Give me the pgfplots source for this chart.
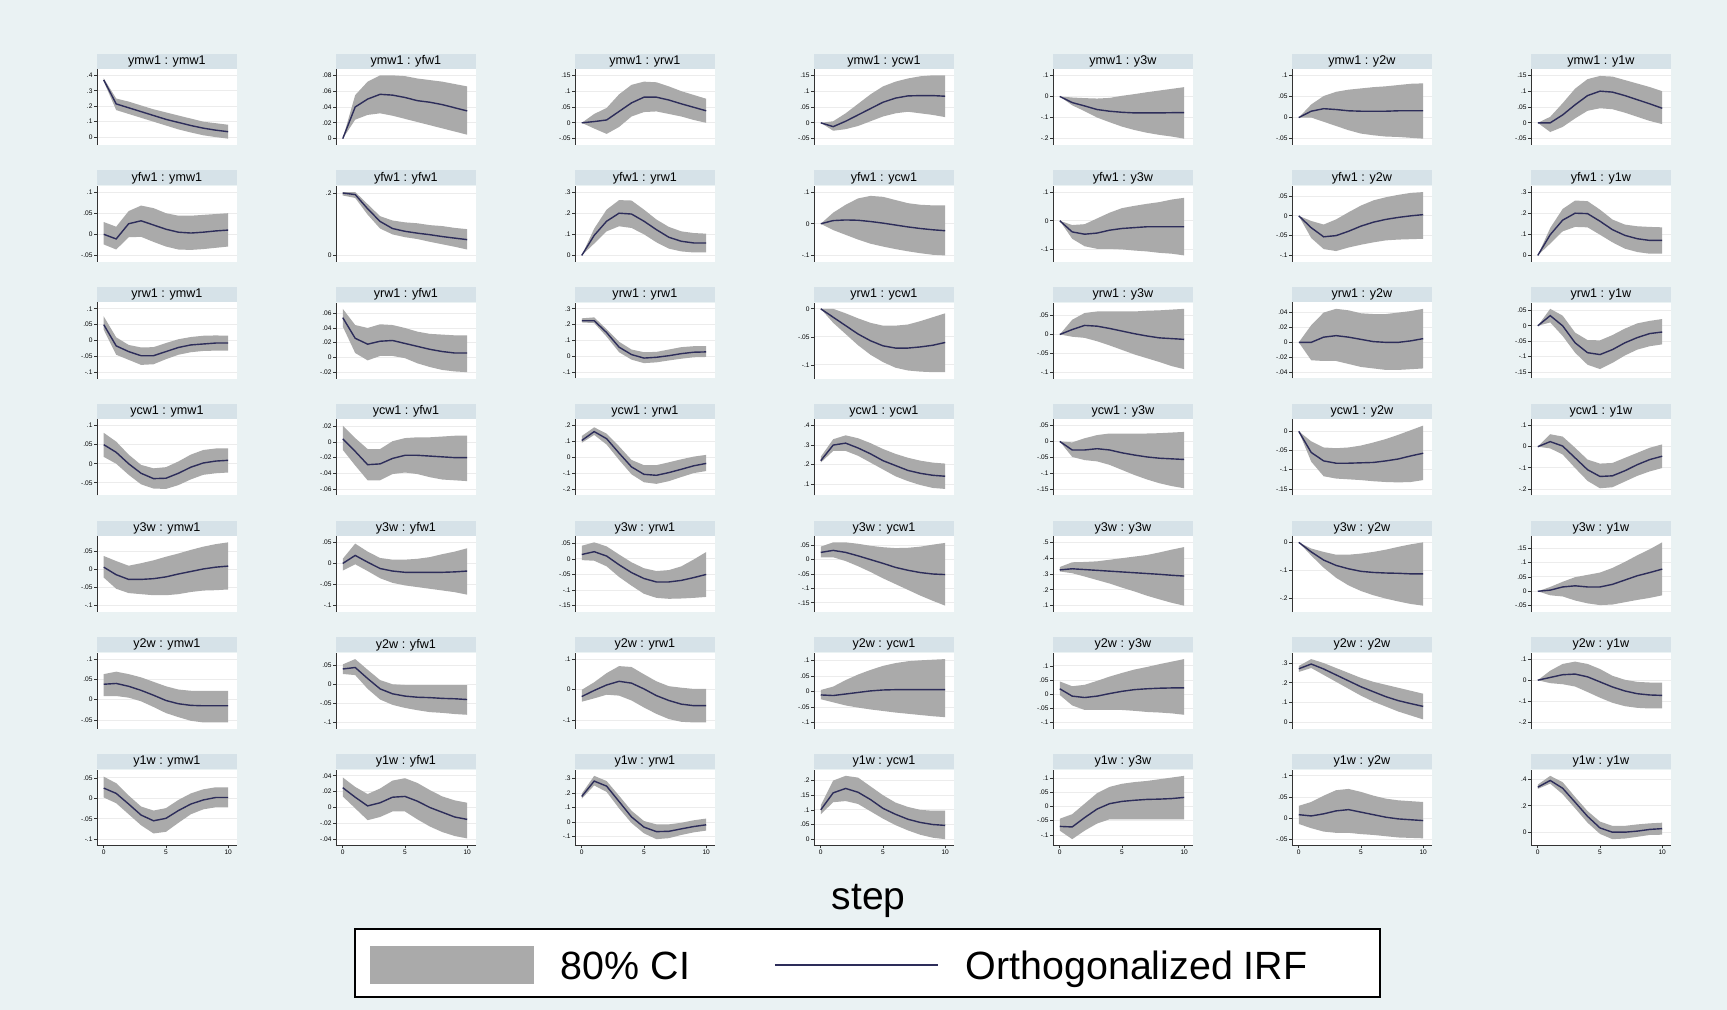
\documentclass[border=0pt]{standalone}
\usepackage{pgfplots}
\pgfplotsset{compat=1.18}
\usepackage{pgfplotstable}
\usepackage{fontspec}
\setmainfont{Liberation Sans}

\definecolor{bgc}{RGB}{234,242,243}
\definecolor{titlebg}{RGB}{214,226,232}
\definecolor{cigray}{RGB}{170,170,170}
\definecolor{irfc}{RGB}{45,45,90}
\definecolor{gridc}{RGB}{236,236,236}

\pgfplotsset{
 irfpanel/.style={scale only axis, width=70pt, height=38pt, anchor=north west,
  xmin=-0.55, xmax=10.7, hide x axis, axis y line*=left,
  axis background/.style={fill=white}, scaled y ticks=false,
  ymajorgrids, grid style={draw=gridc, line width=0.4pt},
  tick style={draw=black!80, line width=0.35pt}, major tick length=1.4pt, tick align=outside,
  y axis line style={draw=black!80, line width=0.35pt},
  yticklabel style={font=\fontsize{3.3}{4}\selectfont, inner sep=0.6pt},
  every axis title shift=0pt,
  title style={at={(0.5,1)}, anchor=south, yshift=0pt, fill=titlebg, minimum width=70pt,
   minimum height=7.5pt, inner sep=0pt, font=\fontsize{6.3}{7}\selectfont}},
 row0/.style={}, row1/.style={}, row2/.style={}, row3/.style={}, row4/.style={}, row5/.style={},
 row6/.style={hide x axis=false, axis x line*=bottom, xtick={0,5,10}, xticklabels={0,5,10},
  x axis line style={draw=black!80, line width=0.35pt},
  xticklabel style={font=\fontsize{3.3}{4}\selectfont, inner sep=0.6pt}},
}

% #1 col, #2 row, #3 title, #4 low end, #5 high end, #6 ticks, #7 tick labels, #8 table
\newcommand{\panel}[8]{%
 \pgfmathsetmacro{\panX}{48.45+119.5*#1}%
 \pgfmathsetmacro{\panY}{-(34.5+58.375*#2)}%
 \pgfmathsetmacro{\panLo}{(#4)-0.1*((#5)-(#4))}%
 \pgfmathsetmacro{\panHi}{(#5)+0.1*((#5)-(#4))}%
 \pgfplotstablesort[sort key=s, sort cmp=int >]{\panRev}{#8}%
 \pgfplotstablecreatecol[expr={\thisrow{hi}}]{b}{\panRev}%
 \pgfplotstablesort[sort key=s, sort cmp=int <]{\panBand}{#8}%
 \pgfplotstablecreatecol[expr={\thisrow{lo}}]{b}{\panBand}%
 \pgfplotstablevertcat{\panBand}{\panRev}%
 \begin{axis}[irfpanel, row#2, at={(\panX pt,\panY pt)}, ymin=\panLo, ymax=\panHi, ytick={#6}, yticklabels={#7}, title={#3}]
 \addplot[fill=cigray, draw=none, mark=none, forget plot] table[x=s,y=b]{\panBand} -- cycle;
 \addplot[irfc, line width=0.7pt, mark=none] table[x=s,y=irf]{#8};
 \end{axis}}

% ---------------- data: s lo irf hi ----------------
\pgfplotstableread{
s lo irf hi
0 0.36 0.37 0.38
1 0.175 0.215 0.25
2 0.15 0.19 0.23
3 0.125 0.165 0.205
4 0.10 0.14 0.18
5 0.075 0.115 0.16
6 0.05 0.095 0.14
7 0.03 0.075 0.12
8 0.012 0.058 0.10
9 0.0 0.045 0.09
10 -0.01 0.035 0.08
}\tAa
\pgfplotstableread{
s lo irf hi
0 0 0 0
1 0.024 0.040 0.055
2 0.030 0.050 0.072
3 0.032 0.056 0.080
4 0.029 0.055 0.080
5 0.025 0.052 0.079
6 0.021 0.048 0.076
7 0.017 0.046 0.074
8 0.013 0.043 0.072
9 0.009 0.039 0.069
10 0.005 0.035 0.066
}\tAb
\pgfplotstableread{
s lo irf hi
0 0 0 0
1 -0.018 0.004 0.028
2 -0.035 0.009 0.047
3 -0.013 0.036 0.09
4 0.02 0.063 0.12
5 0.034 0.081 0.13
6 0.036 0.081 0.128
7 0.028 0.072 0.115
8 0.02 0.06 0.1
9 0.009 0.049 0.088
10 0 0.038 0.076
}\tAc
\pgfplotstableread{
s lo irf hi
0 0 0 0
1 -0.025 -0.012 0.005
2 -0.02 0.005 0.03
3 -0.01 0.025 0.06
4 0.005 0.045 0.09
5 0.02 0.065 0.115
6 0.03 0.078 0.13
7 0.035 0.085 0.14
8 0.03 0.086 0.147
9 0.025 0.086 0.15
10 0.018 0.084 0.15
}\tAd
\pgfplotstableread{
s lo irf hi
0 0 0 0
1 -0.042 -0.029 -0.005
2 -0.07 -0.045 -0.008
3 -0.1 -0.062 -0.01
4 -0.122 -0.07 -0.007
5 -0.143 -0.075 0.003
6 -0.159 -0.078 0.011
7 -0.172 -0.078 0.02
8 -0.182 -0.078 0.028
9 -0.19 -0.077 0.036
10 -0.2 -0.077 0.044
}\tAe
\pgfplotstableread{
s lo irf hi
0 0 0 0
1 0 0.015 0.031
2 -0.01 0.021 0.051
3 -0.02 0.019 0.061
4 -0.03 0.016 0.066
5 -0.038 0.015 0.069
6 -0.042 0.015 0.072
7 -0.045 0.015 0.074
8 -0.046 0.016 0.077
9 -0.048 0.016 0.08
10 -0.05 0.016 0.081
}\tAf
\pgfplotstableread{
s lo irf hi
0 0 0 0
1 -0.029 0 0.019
2 -0.013 0.025 0.062
3 0.014 0.057 0.108
4 0.038 0.086 0.138
5 0.046 0.1 0.148
6 0.043 0.097 0.146
7 0.032 0.086 0.135
8 0.019 0.073 0.124
9 0.006 0.06 0.113
10 -0.004 0.046 0.1
}\tAg
\pgfplotstableread{
s lo irf hi
0 -0.024 0 0.029
1 -0.036 -0.011 0.018
2 -0.007 0.025 0.055
3 -0.006 0.032 0.068
4 -0.018 0.022 0.062
5 -0.029 0.012 0.05
6 -0.036 0.005 0.044
7 -0.037 0.003 0.044
8 -0.035 0.005 0.046
9 -0.032 0.008 0.048
10 -0.029 0.01 0.05
}\tBa
\pgfplotstableread{
s lo irf hi
0 0.194 0.202 0.205
1 0.186 0.197 0.205
2 0.132 0.151 0.166
3 0.087 0.11 0.127
4 0.068 0.087 0.113
5 0.059 0.078 0.107
6 0.053 0.072 0.104
7 0.044 0.067 0.098
8 0.036 0.061 0.095
9 0.028 0.056 0.089
10 0.019 0.051 0.085
}\tBb
\pgfplotstableread{
s lo irf hi
0 0 0 0
1 0.056 0.095 0.127
2 0.114 0.162 0.217
3 0.138 0.2 0.262
4 0.13 0.196 0.26
5 0.1 0.162 0.217
6 0.062 0.122 0.17
7 0.032 0.086 0.135
8 0.019 0.067 0.114
9 0.014 0.059 0.106
10 0.014 0.059 0.103
}\tBc
\pgfplotstableread{
s lo irf hi
0 0 0 0
1 -0.02 0.01 0.035
2 -0.035 0.012 0.06
3 -0.05 0.011 0.08
4 -0.063 0.007 0.088
5 -0.072 0.002 0.085
6 -0.08 -0.004 0.075
7 -0.087 -0.01 0.065
8 -0.093 -0.015 0.06
9 -0.098 -0.019 0.058
10 -0.1 -0.022 0.058
}\tBd
\pgfplotstableread{
s lo irf hi
0 0 0 0
1 -0.063 -0.039 -0.015
2 -0.089 -0.047 -0.012
3 -0.098 -0.043 0.008
4 -0.098 -0.033 0.028
5 -0.1 -0.027 0.044
6 -0.104 -0.024 0.052
7 -0.107 -0.021 0.059
8 -0.112 -0.021 0.065
9 -0.115 -0.021 0.074
10 -0.121 -0.021 0.08
}\tBe
\pgfplotstableread{
s lo irf hi
0 0 0 0
1 -0.056 -0.03 -0.013
2 -0.084 -0.053 -0.022
3 -0.089 -0.05 -0.009
4 -0.08 -0.039 0.009
5 -0.073 -0.026 0.026
6 -0.067 -0.016 0.039
7 -0.062 -0.009 0.047
8 -0.06 -0.004 0.053
9 -0.059 0 0.058
10 -0.058 0.003 0.06
}\tBf
\pgfplotstableread{
s lo irf hi
0 0 0 0
1 0.056 0.098 0.13
2 0.114 0.167 0.22
3 0.135 0.2 0.26
4 0.133 0.198 0.257
5 0.098 0.162 0.217
6 0.062 0.122 0.17
7 0.032 0.095 0.146
8 0.016 0.079 0.138
9 0.008 0.071 0.135
10 0.008 0.071 0.133
}\tBg
\pgfplotstableread{
s lo irf hi
0 0.034 0.05 0.076
1 -0.045 -0.017 0.01
2 -0.061 -0.035 -0.014
3 -0.077 -0.048 -0.022
4 -0.075 -0.048 -0.021
5 -0.059 -0.035 -0.008
6 -0.045 -0.022 0.004
7 -0.037 -0.014 0.011
8 -0.033 -0.011 0.015
9 -0.032 -0.008 0.016
10 -0.032 -0.008 0.015
}\tCa
\pgfplotstableread{
s lo irf hi
0 0.042 0.054 0.066
1 0.006 0.026 0.044
2 -0.004 0.018 0.04
3 0.002 0.022 0.045
4 0.002 0.023 0.044
5 -0.001 0.019 0.04
6 -0.008 0.015 0.035
7 -0.013 0.011 0.032
8 -0.017 0.008 0.031
9 -0.019 0.006 0.03
10 -0.02 0.006 0.03
}\tCb
\pgfplotstableread{
s lo irf hi
0 0.214 0.225 0.24
1 0.21 0.225 0.246
2 0.124 0.15 0.171
3 0.026 0.058 0.092
4 -0.021 0.011 0.043
5 -0.043 -0.011 0.026
6 -0.038 -0.006 0.028
7 -0.026 0.004 0.043
8 -0.015 0.017 0.058
9 -0.006 0.026 0.064
10 -0.004 0.028 0.064
}\tCc
\pgfplotstableread{
s lo irf hi
0 0 0 0
1 -0.025 -0.015 0
2 -0.045 -0.03 -0.008
3 -0.065 -0.045 -0.017
4 -0.082 -0.057 -0.025
5 -0.095 -0.066 -0.03
6 -0.105 -0.07 -0.03
7 -0.11 -0.07 -0.028
8 -0.112 -0.068 -0.022
9 -0.113 -0.065 -0.015
10 -0.113 -0.06 -0.008
}\tCd
\pgfplotstableread{
s lo irf hi
0 0 0 0
1 -0.006 0.013 0.039
2 -0.009 0.024 0.057
3 -0.018 0.022 0.061
4 -0.029 0.016 0.061
5 -0.041 0.009 0.061
6 -0.053 0.002 0.061
7 -0.063 -0.004 0.063
8 -0.073 -0.009 0.064
9 -0.084 -0.011 0.066
10 -0.092 -0.013 0.068
}\tCe
\pgfplotstableread{
s lo irf hi
0 0 0 0
1 -0.024 0 0.023
2 -0.025 0.007 0.04
3 -0.025 0.009 0.045
4 -0.029 0.007 0.043
5 -0.033 0.004 0.039
6 -0.035 0.001 0.038
7 -0.037 0 0.038
8 -0.037 0 0.04
9 -0.036 0.002 0.042
10 -0.035 0.005 0.045
}\tCf
\pgfplotstableread{
s lo irf hi
0 0 0 0
1 0.011 0.033 0.055
2 -0.033 0 0.033
3 -0.087 -0.055 -0.022
4 -0.126 -0.087 -0.046
5 -0.14 -0.093 -0.047
6 -0.12 -0.077 -0.03
7 -0.096 -0.055 -0.009
8 -0.077 -0.038 0.008
9 -0.066 -0.025 0.016
10 -0.06 -0.02 0.022
}\tCg
\pgfplotstableread{
s lo irf hi
0 0.018 0.05 0.081
1 0 0.03 0.058
2 -0.029 0 0.024
3 -0.054 -0.025 -0.003
4 -0.065 -0.039 -0.012
5 -0.066 -0.038 -0.009
6 -0.056 -0.025 0.006
7 -0.041 -0.009 0.024
8 -0.029 0.002 0.036
9 -0.025 0.007 0.04
10 -0.023 0.009 0.04
}\tDa
\pgfplotstableread{
s lo irf hi
0 -0.01 0.004 0.021
1 -0.03 -0.012 0.005
2 -0.049 -0.029 -0.009
3 -0.049 -0.028 -0.009
4 -0.041 -0.021 0.001
5 -0.039 -0.017 0.005
6 -0.041 -0.017 0.006
7 -0.045 -0.018 0.006
8 -0.048 -0.019 0.007
9 -0.049 -0.02 0.008
10 -0.05 -0.02 0.008
}\tDb
\pgfplotstableread{
s lo irf hi
0 0.091 0.106 0.134
1 0.141 0.162 0.189
2 0.08 0.117 0.149
3 -0.017 0.026 0.069
4 -0.108 -0.061 -0.017
5 -0.158 -0.108 -0.05
6 -0.168 -0.114 -0.05
7 -0.151 -0.097 -0.032
8 -0.125 -0.076 -0.013
9 -0.1 -0.054 0.004
10 -0.087 -0.039 0.015
}\tDc
\pgfplotstableread{
s lo irf hi
0 0.21 0.22 0.24
1 0.27 0.3 0.33
2 0.27 0.31 0.35
3 0.245 0.285 0.335
4 0.21 0.255 0.31
5 0.175 0.22 0.28
6 0.14 0.195 0.255
7 0.115 0.17 0.235
8 0.095 0.155 0.22
9 0.08 0.145 0.21
10 0.075 0.14 0.205
}\tDd
\pgfplotstableread{
s lo irf hi
0 0 0 0
1 -0.049 -0.027 -0.003
2 -0.059 -0.027 0.01
3 -0.063 -0.023 0.02
4 -0.074 -0.027 0.025
5 -0.09 -0.036 0.025
6 -0.106 -0.043 0.025
7 -0.12 -0.049 0.025
8 -0.132 -0.053 0.026
9 -0.141 -0.055 0.028
10 -0.148 -0.057 0.03
}\tDe
\pgfplotstableread{
s lo irf hi
0 0 0 0
1 -0.079 -0.055 -0.026
2 -0.117 -0.077 -0.042
3 -0.123 -0.083 -0.044
4 -0.125 -0.083 -0.042
5 -0.127 -0.082 -0.037
6 -0.13 -0.081 -0.029
7 -0.132 -0.077 -0.02
8 -0.133 -0.072 -0.009
9 -0.132 -0.064 0.003
10 -0.127 -0.057 0.015
}\tDf
\pgfplotstableread{
s lo irf hi
0 0 0 0
1 -0.008 0.024 0.059
2 -0.037 0.003 0.048
3 -0.101 -0.053 -0.005
4 -0.162 -0.109 -0.061
5 -0.197 -0.141 -0.08
6 -0.192 -0.138 -0.077
7 -0.165 -0.114 -0.053
8 -0.138 -0.085 -0.029
9 -0.117 -0.061 -0.005
10 -0.101 -0.045 0.011
}\tDg
\pgfplotstableread{
s lo irf hi
0 -0.022 0.007 0.038
1 -0.053 -0.014 0.024
2 -0.065 -0.027 0.011
3 -0.068 -0.027 0.018
4 -0.071 -0.025 0.026
5 -0.071 -0.02 0.036
6 -0.068 -0.012 0.045
7 -0.062 -0.005 0.055
8 -0.058 0.002 0.064
9 -0.057 0.007 0.071
10 -0.055 0.01 0.076
}\tEa
\pgfplotstableread{
s lo irf hi
0 -0.017 0 0.011
1 -0.002 0.019 0.047
2 -0.018 0.003 0.028
3 -0.035 -0.012 0.013
4 -0.046 -0.018 0.009
5 -0.052 -0.021 0.009
6 -0.056 -0.021 0.011
7 -0.06 -0.021 0.015
8 -0.064 -0.021 0.022
9 -0.068 -0.02 0.028
10 -0.074 -0.018 0.036
}\tEb
\pgfplotstableread{
s lo irf hi
0 -0.004 0.014 0.042
1 -0.006 0.023 0.053
2 -0.024 0.009 0.04
3 -0.058 -0.019 0.014
4 -0.086 -0.044 -0.011
5 -0.112 -0.063 -0.03
6 -0.125 -0.074 -0.039
7 -0.128 -0.074 -0.036
8 -0.127 -0.069 -0.024
9 -0.125 -0.06 -0.002
10 -0.122 -0.05 0.022
}\tEc
\pgfplotstableread{
s lo irf hi
0 0.008 0.025 0.045
1 0.008 0.032 0.06
2 -0.005 0.025 0.06
3 -0.023 0.013 0.055
4 -0.043 0 0.048
5 -0.065 -0.013 0.043
6 -0.085 -0.027 0.04
7 -0.105 -0.037 0.041
8 -0.125 -0.045 0.045
9 -0.143 -0.05 0.052
10 -0.16 -0.052 0.058
}\tEd
\pgfplotstableread{
s lo irf hi
0 0.316 0.326 0.344
1 0.305 0.333 0.374
2 0.284 0.328 0.376
3 0.262 0.323 0.38
4 0.24 0.318 0.39
5 0.214 0.313 0.4
6 0.19 0.308 0.41
7 0.163 0.303 0.42
8 0.14 0.298 0.436
9 0.118 0.292 0.454
10 0.1 0.287 0.47
}\tEe
\pgfplotstableread{
s lo irf hi
0 0 0 0
1 -0.047 -0.034 -0.022
2 -0.09 -0.063 -0.034
3 -0.126 -0.082 -0.044
4 -0.153 -0.094 -0.044
5 -0.173 -0.103 -0.04
6 -0.188 -0.107 -0.034
7 -0.2 -0.109 -0.026
8 -0.21 -0.11 -0.016
9 -0.219 -0.112 -0.007
10 -0.225 -0.112 0
}\tEf
\pgfplotstableread{
s lo irf hi
0 0 0 0
1 -0.014 0.004 0.015
2 -0.018 0.015 0.033
3 -0.032 0.019 0.049
4 -0.042 0.015 0.057
5 -0.048 0.015 0.065
6 -0.046 0.024 0.081
7 -0.038 0.039 0.102
8 -0.03 0.054 0.125
9 -0.023 0.065 0.146
10 -0.014 0.077 0.17
}\tEg
\pgfplotstableread{
s lo irf hi
0 0.009 0.038 0.063
1 0.009 0.04 0.069
2 0.005 0.033 0.063
3 -0.004 0.023 0.055
4 -0.018 0.011 0.044
5 -0.033 -0.002 0.033
6 -0.043 -0.01 0.025
7 -0.052 -0.014 0.022
8 -0.056 -0.015 0.022
9 -0.056 -0.015 0.022
10 -0.056 -0.015 0.022
}\tFa
\pgfplotstableread{
s lo irf hi
0 0.027 0.04 0.052
1 0.024 0.044 0.066
2 -0.012 0.015 0.038
3 -0.04 -0.012 0.011
4 -0.054 -0.025 0
5 -0.062 -0.031 -0.002
6 -0.068 -0.034 -0.002
7 -0.073 -0.035 -0.002
8 -0.075 -0.037 -0.002
9 -0.078 -0.038 -0.002
10 -0.08 -0.04 -0.002
}\tFb
\pgfplotstableread{
s lo irf hi
0 -0.04 -0.023 -0.001
1 -0.029 -0.003 0.024
2 -0.017 0.015 0.054
3 -0.02 0.027 0.077
4 -0.036 0.021 0.074
5 -0.059 0.002 0.05
6 -0.08 -0.02 0.027
7 -0.097 -0.036 0.011
8 -0.106 -0.048 0.006
9 -0.108 -0.053 0.002
10 -0.108 -0.053 0.002
}\tFc
\pgfplotstableread{
s lo irf hi
0 -0.025 -0.011 0.005
1 -0.035 -0.013 0.016
2 -0.045 -0.008 0.037
3 -0.052 -0.003 0.055
4 -0.058 0.002 0.07
5 -0.063 0.005 0.083
6 -0.068 0.006 0.092
7 -0.072 0.006 0.098
8 -0.076 0.006 0.101
9 -0.08 0.006 0.103
10 -0.083 0.006 0.105
}\tFd
\pgfplotstableread{
s lo irf hi
0 -0.003 0.019 0.045
1 -0.04 -0.007 0.028
2 -0.056 -0.012 0.033
3 -0.056 -0.007 0.047
4 -0.056 0.002 0.062
5 -0.056 0.01 0.075
6 -0.059 0.016 0.087
7 -0.063 0.019 0.096
8 -0.065 0.021 0.106
9 -0.068 0.022 0.115
10 -0.073 0.022 0.124
}\tFe
\pgfplotstableread{
s lo irf hi
0 0.255 0.271 0.285
1 0.275 0.295 0.32
2 0.24 0.27 0.3
3 0.205 0.24 0.275
4 0.17 0.21 0.25
5 0.135 0.18 0.225
6 0.105 0.155 0.205
7 0.08 0.13 0.19
8 0.055 0.11 0.175
9 0.035 0.095 0.16
10 0.015 0.081 0.145
}\tFf
\pgfplotstableread{
s lo irf hi
0 0 0 0
1 -0.014 0.013 0.045
2 -0.019 0.026 0.077
3 -0.03 0.029 0.088
4 -0.056 0.016 0.077
5 -0.083 -0.008 0.053
6 -0.107 -0.032 0.021
7 -0.123 -0.051 0.002
8 -0.131 -0.064 -0.008
9 -0.134 -0.07 -0.011
10 -0.134 -0.072 -0.011
}\tFg
\pgfplotstableread{
s lo irf hi
0 0.002 0.025 0.053
1 -0.012 0.012 0.037
2 -0.039 -0.014 0.007
3 -0.066 -0.041 -0.02
4 -0.086 -0.055 -0.03
5 -0.082 -0.049 -0.024
6 -0.06 -0.03 -0.004
7 -0.039 -0.014 0.012
8 -0.027 -0.004 0.022
9 -0.022 0.002 0.027
10 -0.022 0.002 0.027
}\tGa
\pgfplotstableread{
s lo irf hi
0 0.014 0.025 0.038
1 -0.001 0.013 0.026
2 -0.016 0.002 0.017
3 -0.012 0.006 0.024
4 -0.005 0.013 0.034
5 -0.005 0.014 0.037
6 -0.015 0.008 0.031
7 -0.024 0 0.022
8 -0.031 -0.006 0.014
9 -0.036 -0.012 0.009
10 -0.039 -0.015 0.006
}\tGb
\pgfplotstableread{
s lo irf hi
0 0.16 0.176 0.195
1 0.252 0.282 0.318
2 0.207 0.247 0.282
3 0.094 0.141 0.181
4 -0.007 0.035 0.078
5 -0.078 -0.035 0.007
6 -0.118 -0.066 -0.016
7 -0.111 -0.064 -0.016
8 -0.089 -0.047 -0.005
9 -0.071 -0.031 0.012
10 -0.059 -0.019 0.024
}\tGc
\pgfplotstableread{
s lo irf hi
0 0.085 0.1 0.115
1 0.126 0.158 0.2
2 0.13 0.173 0.216
3 0.12 0.16 0.21
4 0.095 0.135 0.18
5 0.07 0.105 0.15
6 0.048 0.085 0.125
7 0.03 0.068 0.11
8 0.015 0.057 0.1
9 0.005 0.05 0.097
10 0 0.047 0.097
}\tGd
\pgfplotstableread{
s lo irf hi
0 -0.085 -0.07 -0.043
1 -0.115 -0.072 -0.027
2 -0.085 -0.039 0.01
3 -0.06 -0.009 0.047
4 -0.045 0.01 0.069
5 -0.045 0.018 0.08
6 -0.045 0.022 0.086
7 -0.045 0.025 0.09
8 -0.045 0.026 0.096
9 -0.045 0.028 0.102
10 -0.045 0.032 0.108
}\tGe
\pgfplotstableread{
s lo irf hi
0 -0.014 0.008 0.029
1 -0.024 0.005 0.038
2 -0.032 0.01 0.053
3 -0.035 0.017 0.066
4 -0.035 0.02 0.069
5 -0.038 0.014 0.062
6 -0.04 0.008 0.053
7 -0.043 0.002 0.046
8 -0.046 -0.002 0.042
9 -0.047 -0.004 0.04
10 -0.048 -0.006 0.038
}\tGf
\pgfplotstableread{
s lo irf hi
0 0.328 0.341 0.36
1 0.368 0.392 0.427
2 0.288 0.333 0.379
3 0.181 0.227 0.267
4 0.072 0.12 0.16
5 -0.013 0.032 0.08
6 -0.053 0 0.048
7 -0.048 0 0.048
8 -0.035 0.008 0.059
9 -0.021 0.021 0.067
10 -0.019 0.027 0.072
}\tGg

\begin{document}
\begin{tikzpicture}
\useasboundingbox (0,0) rectangle (863.5pt,-505pt);
\fill[bgc] (0,0) rectangle (863.5pt,-505pt);

% Row 0: ymw1
\panel{0}{0}{ymw1 : ymw1}{-0.01}{0.4}{0,0.1,0.2,0.3,0.4}{0,.1,.2,.3,.4}{\tAa}
\panel{1}{0}{ymw1 : yfw1}{0}{0.08}{0,0.02,0.04,0.06,0.08}{0,.02,.04,.06,.08}{\tAb}
\panel{2}{0}{ymw1 : yrw1}{-0.05}{0.15}{-0.05,0,0.05,0.1,0.15}{-.05,0,.05,.1,.15}{\tAc}
\panel{3}{0}{ymw1 : ycw1}{-0.05}{0.15}{-0.05,0,0.05,0.1,0.15}{-.05,0,.05,.1,.15}{\tAd}
\panel{4}{0}{ymw1 : y3w}{-0.2}{0.1}{-0.2,-0.1,0,0.1}{-.2,-.1,0,.1}{\tAe}
\panel{5}{0}{ymw1 : y2w}{-0.05}{0.1}{-0.05,0,0.05,0.1}{-.05,0,.05,.1}{\tAf}
\panel{6}{0}{ymw1 : y1w}{-0.05}{0.15}{-0.05,0,0.05,0.1,0.15}{-.05,0,.05,.1,.15}{\tAg}
% Row 1: yfw1
\panel{0}{1}{yfw1 : ymw1}{-0.05}{0.1}{-0.05,0,0.05,0.1}{-.05,0,.05,.1}{\tBa}
\panel{1}{1}{yfw1 : yfw1}{0}{0.205}{0,0.2}{0,.2}{\tBb}
\panel{2}{1}{yfw1 : yrw1}{0}{0.3}{0,0.1,0.2,0.3}{0,.1,.2,.3}{\tBc}
\panel{3}{1}{yfw1 : ycw1}{-0.1}{0.1}{-0.1,0,0.1}{-.1,0,.1}{\tBd}
\panel{4}{1}{yfw1 : y3w}{-0.121}{0.1}{-0.1,0,0.1}{-.1,0,.1}{\tBe}
\panel{5}{1}{yfw1 : y2w}{-0.1}{0.06}{-0.1,-0.05,0,0.05}{-.1,-.05,0,.05}{\tBf}
\panel{6}{1}{yfw1 : y1w}{0}{0.3}{0,0.1,0.2,0.3}{0,.1,.2,.3}{\tBg}
% Row 2: yrw1
\panel{0}{2}{yrw1 : ymw1}{-0.1}{0.1}{-0.1,-0.05,0,0.05,0.1}{-.1,-.05,0,.05,.1}{\tCa}
\panel{1}{2}{yrw1 : yfw1}{-0.02}{0.066}{-0.02,0,0.02,0.04,0.06}{-.02,0,.02,.04,.06}{\tCb}
\panel{2}{2}{yrw1 : yrw1}{-0.1}{0.3}{-0.1,0,0.1,0.2,0.3}{-.1,0,.1,.2,.3}{\tCc}
\panel{3}{2}{yrw1 : ycw1}{-0.113}{0}{-0.1,-0.05,0}{-.1,-.05,0}{\tCd}
\panel{4}{2}{yrw1 : y3w}{-0.1}{0.068}{-0.1,-0.05,0,0.05}{-.1,-.05,0,.05}{\tCe}
\panel{5}{2}{yrw1 : y2w}{-0.04}{0.045}{-0.04,-0.02,0,0.02,0.04}{-.04,-.02,0,.02,.04}{\tCf}
\panel{6}{2}{yrw1 : y1w}{-0.15}{0.055}{-0.15,-0.1,-0.05,0,0.05}{-.15,-.1,-.05,0,.05}{\tCg}
% Row 3: ycw1
\panel{0}{3}{ycw1 : ymw1}{-0.066}{0.1}{-0.05,0,0.05,0.1}{-.05,0,.05,.1}{\tDa}
\panel{1}{3}{ycw1 : yfw1}{-0.06}{0.021}{-0.06,-0.04,-0.02,0,0.02}{-.06,-.04,-.02,0,.02}{\tDb}
\panel{2}{3}{ycw1 : yrw1}{-0.2}{0.2}{-0.2,-0.1,0,0.1,0.2}{-.2,-.1,0,.1,.2}{\tDc}
\panel{3}{3}{ycw1 : ycw1}{0.075}{0.4}{0.1,0.2,0.3,0.4}{.1,.2,.3,.4}{\tDd}
\panel{4}{3}{ycw1 : y3w}{-0.15}{0.05}{-0.15,-0.1,-0.05,0,0.05}{-.15,-.1,-.05,0,.05}{\tDe}
\panel{5}{3}{ycw1 : y2w}{-0.15}{0.015}{-0.15,-0.1,-0.05,0}{-.15,-.1,-.05,0}{\tDf}
\panel{6}{3}{ycw1 : y1w}{-0.2}{0.1}{-0.2,-0.1,0,0.1}{-.2,-.1,0,.1}{\tDg}
% Row 4: y3w
\panel{0}{4}{y3w : ymw1}{-0.1}{0.076}{-0.1,-0.05,0,0.05}{-.1,-.05,0,.05}{\tEa}
\panel{1}{4}{y3w : yfw1}{-0.1}{0.05}{-0.1,-0.05,0,0.05}{-.1,-.05,0,.05}{\tEb}
\panel{2}{4}{y3w : yrw1}{-0.15}{0.053}{-0.15,-0.1,-0.05,0,0.05}{-.15,-.1,-.05,0,.05}{\tEc}
\panel{3}{4}{y3w : ycw1}{-0.16}{0.06}{-0.15,-0.1,-0.05,0,0.05}{-.15,-.1,-.05,0,.05}{\tEd}
\panel{4}{4}{y3w : y3w}{0.1}{0.5}{0.1,0.2,0.3,0.4,0.5}{.1,.2,.3,.4,.5}{\tEe}
\panel{5}{4}{y3w : y2w}{-0.225}{0}{-0.2,-0.1,0}{-.2,-.1,0}{\tEf}
\panel{6}{4}{y3w : y1w}{-0.05}{0.17}{-0.05,0,0.05,0.1,0.15}{-.05,0,.05,.1,.15}{\tEg}
% Row 5: y2w
\panel{0}{5}{y2w : ymw1}{-0.056}{0.1}{-0.05,0,0.05,0.1}{-.05,0,.05,.1}{\tFa}
\panel{1}{5}{y2w : yfw1}{-0.1}{0.066}{-0.1,-0.05,0,0.05}{-.1,-.05,0,.05}{\tFb}
\panel{2}{5}{y2w : yrw1}{-0.108}{0.1}{-0.1,0,0.1}{-.1,0,.1}{\tFc}
\panel{3}{5}{y2w : ycw1}{-0.1}{0.105}{-0.1,-0.05,0,0.05,0.1}{-.1,-.05,0,.05,.1}{\tFd}
\panel{4}{5}{y2w : y3w}{-0.1}{0.124}{-0.1,-0.05,0,0.05,0.1}{-.1,-.05,0,.05,.1}{\tFe}
\panel{5}{5}{y2w : y2w}{0}{0.32}{0,0.1,0.2,0.3}{0,.1,.2,.3}{\tFf}
\panel{6}{5}{y2w : y1w}{-0.2}{0.1}{-0.2,-0.1,0,0.1}{-.2,-.1,0,.1}{\tFg}
% Row 6: y1w
\panel{0}{6}{y1w : ymw1}{-0.1}{0.055}{-0.1,-0.05,0,0.05}{-.1,-.05,0,.05}{\tGa}
\panel{1}{6}{y1w : yfw1}{-0.04}{0.04}{-0.04,-0.02,0,0.02,0.04}{-.04,-.02,0,.02,.04}{\tGb}
\panel{2}{6}{y1w : yrw1}{-0.118}{0.318}{-0.1,0,0.1,0.2,0.3}{-.1,0,.1,.2,.3}{\tGc}
\panel{3}{6}{y1w : ycw1}{0}{0.216}{0,0.05,0.1,0.15,0.2}{0,.05,.1,.15,.2}{\tGd}
\panel{4}{6}{y1w : y3w}{-0.115}{0.108}{-0.1,-0.05,0,0.05,0.1}{-.1,-.05,0,.05,.1}{\tGe}
\panel{5}{6}{y1w : y2w}{-0.05}{0.1}{-0.05,0,0.05,0.1}{-.05,0,.05,.1}{\tGf}
\panel{6}{6}{y1w : y1w}{-0.053}{0.427}{0,0.2,0.4}{0,.2,.4}{\tGg}

% x-axis title
\node[font=\fontsize{19.5}{23}\selectfont] at (434.4pt,-450.3pt) {step};

% legend
\filldraw[fill=white, draw=black, line width=1pt] (177.3pt,-464.3pt) rectangle (690pt,-498.4pt);
\begin{axis}[at={(177.3pt,-498.4pt)}, anchor=south west, scale only axis, width=512.7pt, height=34.1pt,
  hide axis, xmin=0, xmax=1, ymin=0, ymax=1, legend columns=2, legend cell align=left,
  legend style={at={(0.5,0.5)}, anchor=center, xshift=-14.4pt, yshift=-1.1pt, draw=none, fill=none,
   font=\fontsize{19.7}{23}\selectfont, inner sep=0pt, nodes={inner sep=0pt},
   /tikz/every even column/.append style={column sep=41.7pt}}]
\addlegendimage{legend image code/.code={\fill[cigray] (0pt,-8.3pt) rectangle (81.5pt,10.3pt); \path (95.3pt,1pt);}}
\addlegendentry{80\% CI}
\addlegendimage{legend image code/.code={\draw[irfc, line width=1.2pt] (0pt,1pt) -- (81.5pt,1pt); \path (95.3pt,1pt);}}
\addlegendentry{Orthogonalized IRF}
\end{axis}
\end{tikzpicture}
\end{document}
